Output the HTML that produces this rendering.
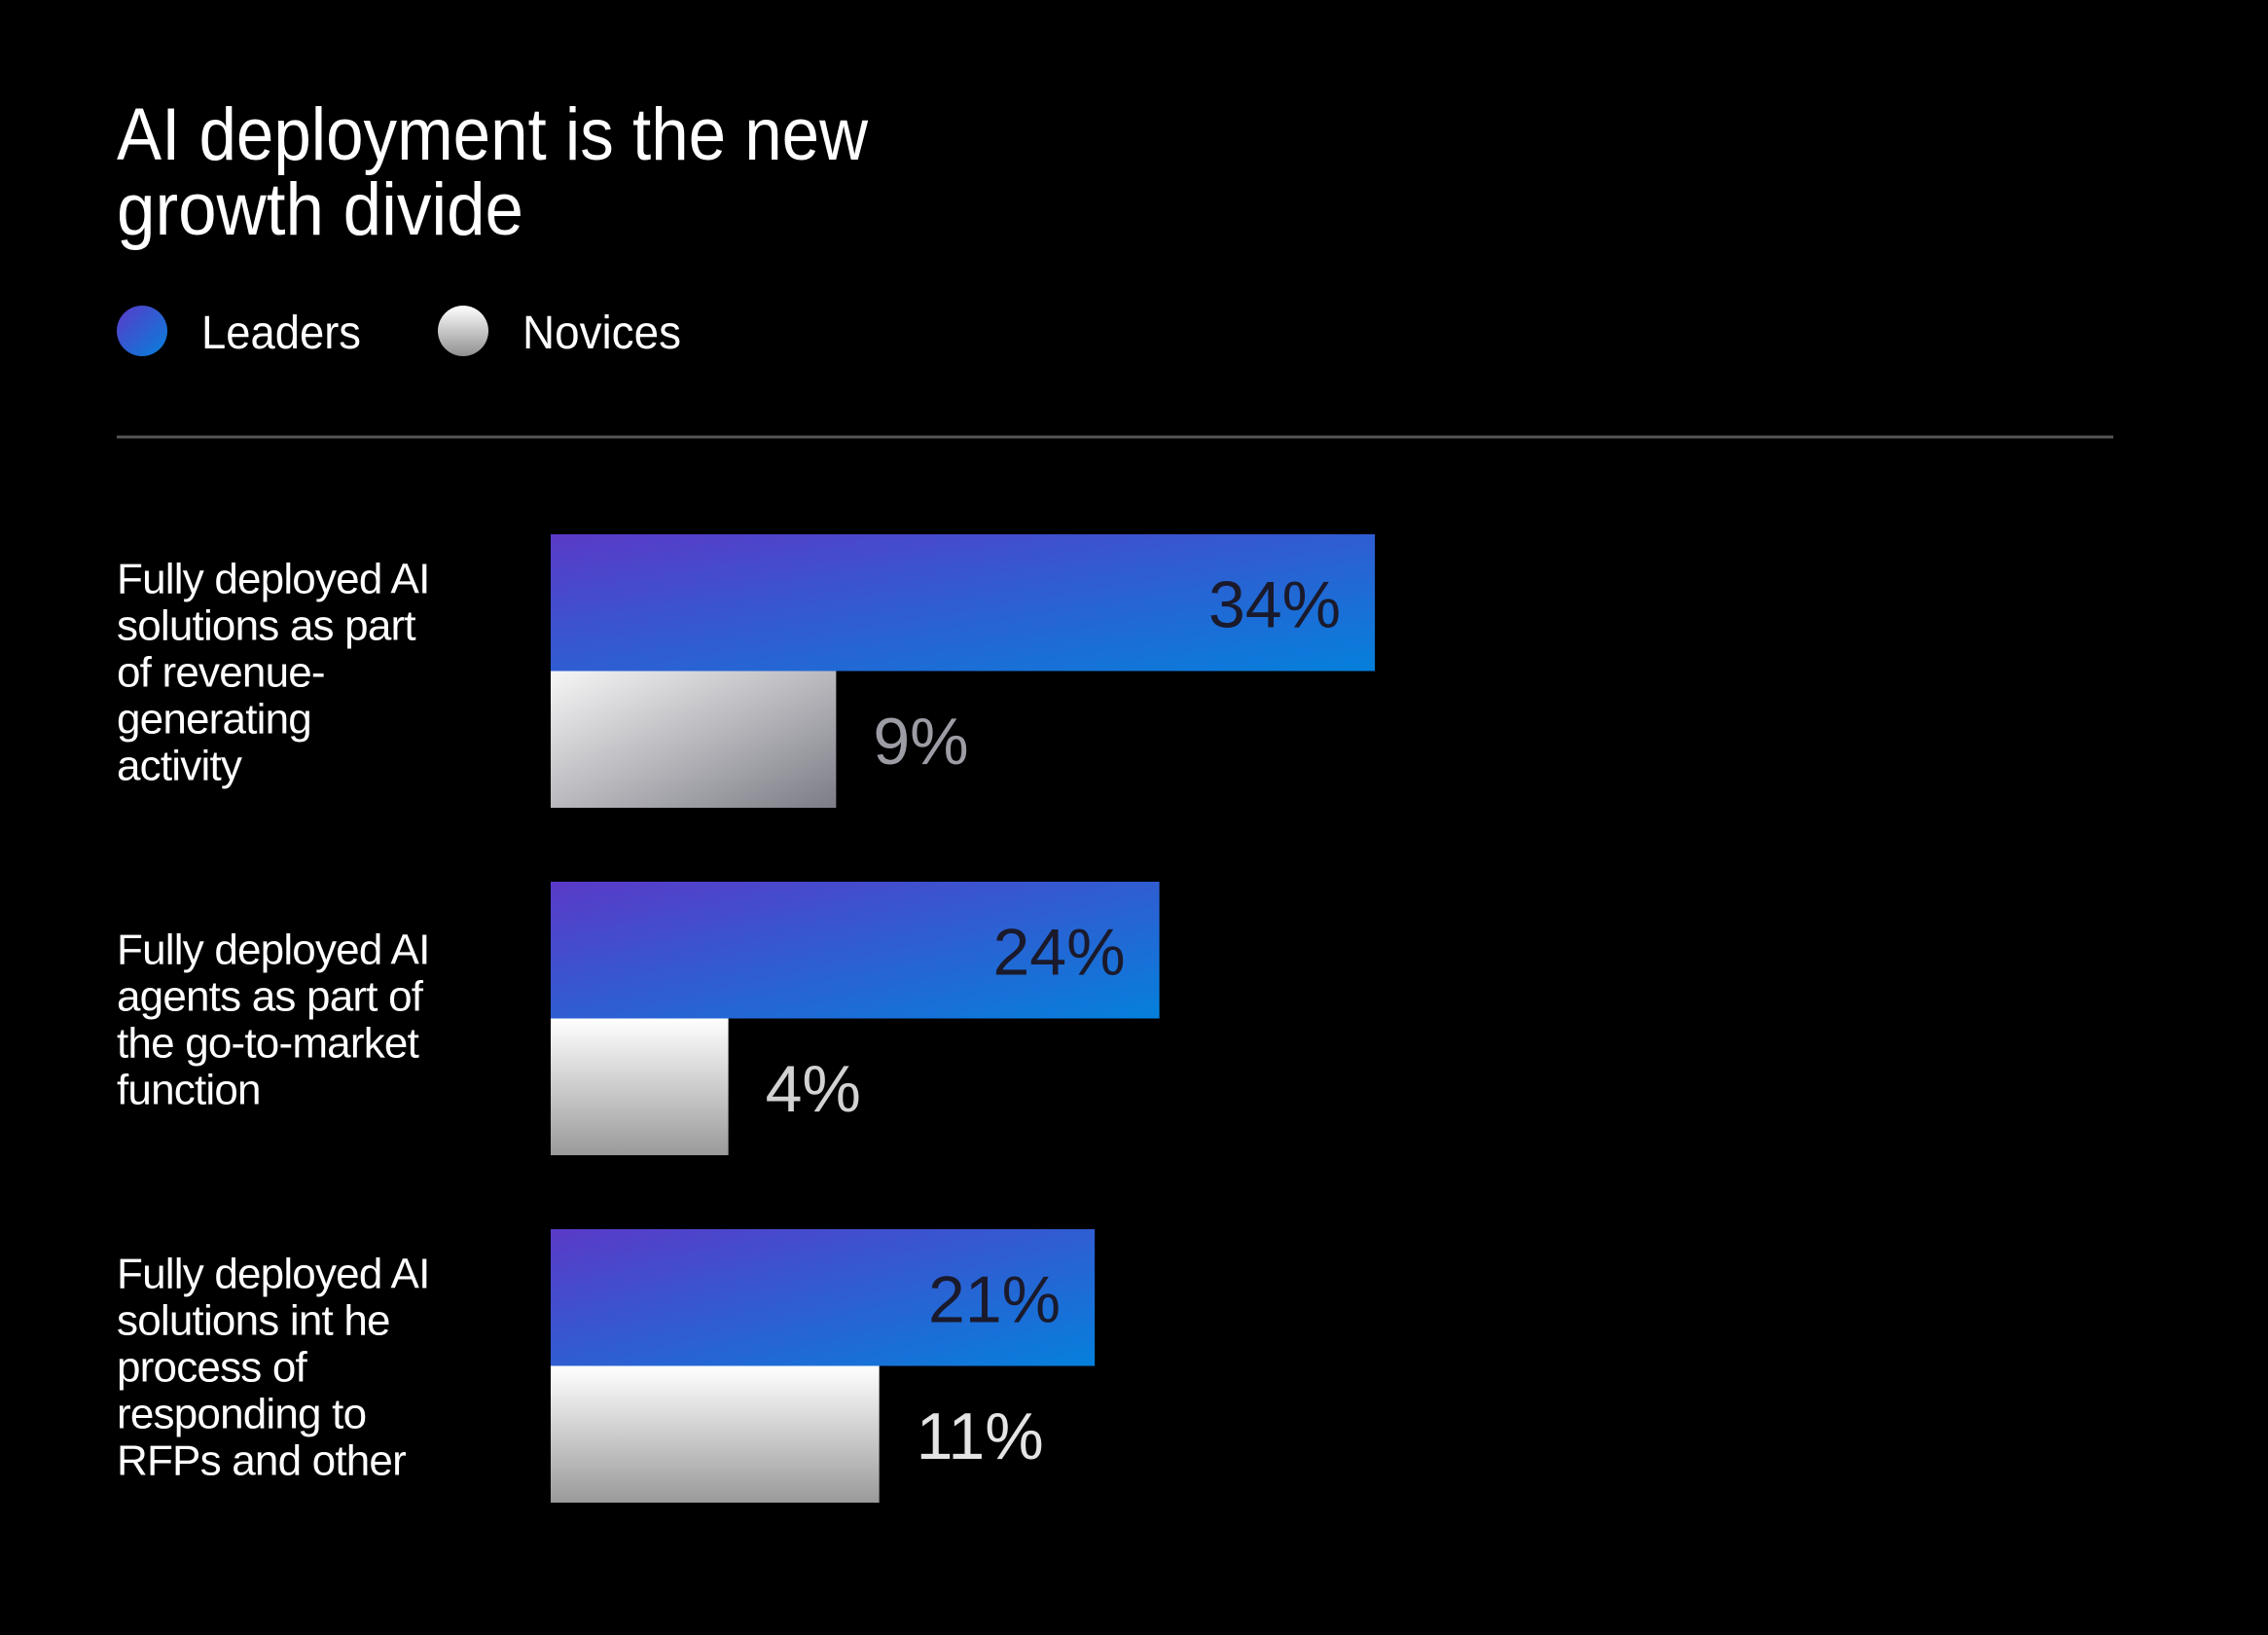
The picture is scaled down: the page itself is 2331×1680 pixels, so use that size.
<!DOCTYPE html>
<html><head><meta charset="utf-8"><style>
html,body{margin:0;padding:0;background:#000;}
svg{display:block;font-family:"Liberation Sans",sans-serif;}
</style></head><body>
<svg id="chart" width="2331" height="1680" viewBox="0 0 2331 1680">
<defs>
<linearGradient id="gLead" x1="0" y1="0" x2="1" y2="1"><stop offset="0" stop-color="#5a3ac8"/><stop offset="1" stop-color="#0580dc"/></linearGradient>
<linearGradient id="gNov0" x1="0" y1="0" x2="1" y2="1"><stop offset="0" stop-color="#f6f6f6"/><stop offset="1" stop-color="#7c7c86"/></linearGradient>
<linearGradient id="gNov1" x1="0" y1="0" x2="0" y2="1"><stop offset="0" stop-color="#ffffff"/><stop offset="1" stop-color="#9a9a9a"/></linearGradient>
<linearGradient id="gDotL" x1="0" y1="0" x2="1" y2="1"><stop offset="0" stop-color="#5a3ac8"/><stop offset="1" stop-color="#0580dc"/></linearGradient>
<linearGradient id="gDotN" x1="0" y1="0" x2="0" y2="1"><stop offset="0" stop-color="#ffffff"/><stop offset="1" stop-color="#909090"/></linearGradient>
</defs>
<rect width="2331" height="1680" fill="#000"/>
<g fill="#fff" font-size="76">
<text x="120" y="164" textLength="772" lengthAdjust="spacingAndGlyphs">AI deployment is the new</text>
<text x="120" y="241" textLength="418" lengthAdjust="spacingAndGlyphs">growth divide</text>
</g>
<g>
<g>
<circle cx="146" cy="340" r="26" fill="url(#gDotL)"/>
<text x="207" y="358" fill="#fff" font-size="48" textLength="164" lengthAdjust="spacingAndGlyphs">Leaders</text>
</g>
<g>
<circle cx="476" cy="340" r="26" fill="url(#gDotN)"/>
<text x="537" y="358" fill="#fff" font-size="48" textLength="163" lengthAdjust="spacingAndGlyphs">Novices</text>
</g>
</g>
<line x1="120" y1="449" x2="2172" y2="449" stroke="#555" stroke-width="3"/>
<g id="bars"></g>
</svg>
<script>
const categories = [
 ["Fully deployed AI","solutions as part","of revenue-","generating","activity"],
 ["Fully deployed AI","agents as part of","the go-to-market","function"],
 ["Fully deployed AI","solutions int he","process of","responding to","RFPs and other"]
];
const leaders = [34, 24, 21];
const novices = [9, 4, 11];
const leaderLabels = ["34%","24%","21%"];
const noviceLabels = ["9%","4%","11%"];
const noviceTextColors = ["#9c9ca4","#d2d2d2","#e4e4e4"];

const NS = "http://www.w3.org/2000/svg";
const g = document.getElementById("bars");
const x0 = 566;
function xScale(v){ return x0 + 94 + 22.15 * v; }
const groupTop = 549, groupStep = 357, barH = 140.5, lineH = 48;
function mk(tag, attrs){ const e = document.createElementNS(NS, tag); for (const k in attrs) e.setAttribute(k, attrs[k]); return e; }

categories.forEach((lines, i) => {
  const top = groupTop + i * groupStep;
  const base = top + (2 * barH - lines.length * lineH) / 2 + 40;
  const lab = mk("text", {x: 120, y: base, fill: "#fff", "font-size": 44, "letter-spacing": "-0.8"});
  
  
  lines.forEach((ln, j) => {
    const t = mk("tspan", {x: 120, y: base + j * lineH});
    t.textContent = ln;
    lab.appendChild(t);
  });
  g.appendChild(lab);

  const lw = xScale(leaders[i]) - x0;
  const lb = mk("rect", {x: x0, y: top, width: lw, height: barH, fill: "url(#gLead)"});
  
  
  g.appendChild(lb);
  const lt = mk("text", {x: x0 + lw - 35, y: top + barH / 2 + 25, fill: "#1a1a2c", "font-size": 68, "text-anchor": "end"});
  
  
  lt.textContent = leaderLabels[i];
  g.appendChild(lt);

  const nw = xScale(novices[i]) - x0;
  const nb = mk("rect", {x: x0, y: top + barH, width: nw, height: barH, fill: i === 0 ? "url(#gNov0)" : "url(#gNov1)"});
  
  
  g.appendChild(nb);
  const nt = mk("text", {x: x0 + nw + 38, y: top + barH * 1.5 + 25, fill: noviceTextColors[i], "font-size": 68});
  
  
  nt.textContent = noviceLabels[i];
  g.appendChild(nt);
});
</script>
</body></html>
